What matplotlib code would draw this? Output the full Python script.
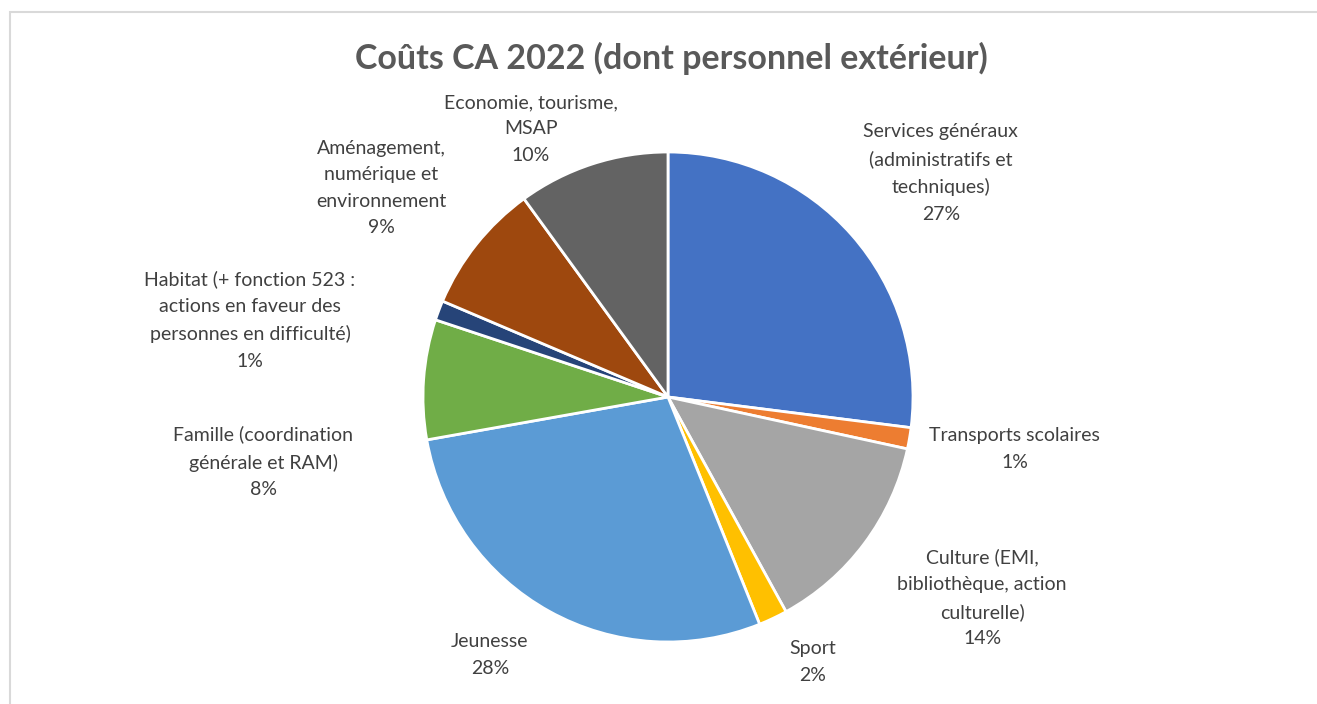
import matplotlib
matplotlib.use("Agg")
import matplotlib.pyplot as plt
from matplotlib.patches import Rectangle

# Data
categories = [
    "Services généraux\n(administratifs et\ntechniques)",
    "Transports scolaires",
    "Culture (EMI,\nbibliothèque, action\nculturelle)",
    "Sport",
    "Jeunesse",
    "Famille (coordination\ngénérale et RAM)",
    "Habitat (+ fonction 523 :\nactions en faveur des\npersonnes en difficulté)",
    "Aménagement,\nnumérique et\nenvironnement",
    "Economie, tourisme,\nMSAP",
]
values = [27.0, 1.4, 13.6, 1.9, 28.3, 7.9, 1.3, 8.6, 10.0]
colors = ["#4472C4", "#ED7D31", "#A5A5A5", "#FFC000", "#5B9BD5",
          "#70AD47", "#264478", "#9E480E", "#636363"]

# label centres, in pie radius units
label_pos = [(1.114, 0.914), (1.416, -0.212), (1.282, -0.820), (0.592, -1.082),
             (-0.727, -1.053), (-1.653, -0.265), (-1.706, 0.314),
             (-1.171, 0.853), (-0.559, 1.094)]

plt.rcParams['font.family'] = ['Lato', 'DejaVu Sans']

W, H = 1317, 704
fig = plt.figure(figsize=(W / 100, H / 100), dpi=100)

# chart border (runs off the right and bottom edges)
fig.patches.append(Rectangle((10 / W, -0.05), 1.1, (H - 12) / H + 0.05,
                             transform=fig.transFigure, fill=False,
                             edgecolor="#D9D9D9", linewidth=1.5))

cx, cy, r = 668, 397, 245
ax = fig.add_axes([(cx - r) / W, (H - cy - r) / H, 2 * r / W, 2 * r / H])
ax.pie(values, colors=colors, startangle=90, counterclock=False,
       wedgeprops=dict(edgecolor="white", linewidth=2))
ax.set_xlim(-1, 1)
ax.set_ylim(-1, 1)
ax.axis("off")

total = sum(values)
for name, v, (x, y) in zip(categories, values, label_pos):
    txt = f"{name}\n{v / total * 100:.0f}%"
    ax.text(x, y, txt, ha="center", va="center", fontsize=14,
            color="#404040", linespacing=1.68, clip_on=False)

fig.text(671 / W, 1 - 58 / H, "Coûts CA 2022 (dont personnel extérieur)",
         ha="center", va="center", fontsize=24.5, fontweight="bold",
         color="#595959")

fig.savefig("out.png", dpi=100)
